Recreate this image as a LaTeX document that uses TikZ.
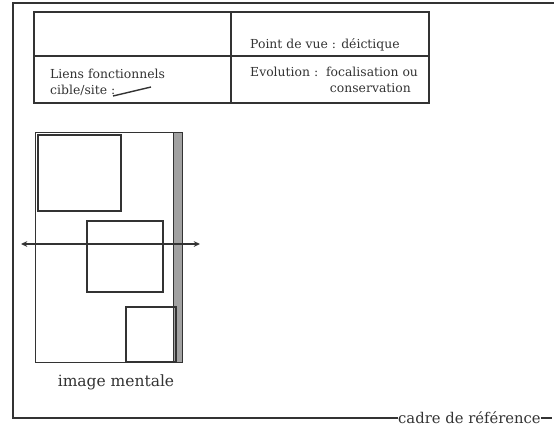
\documentclass[tikz,border=0pt]{standalone}
\usepackage{fontspec}
\setmainfont{DejaVu Serif}
\usepackage{xcolor}
\usepackage{tikz}
\usetikzlibrary{arrows.meta, positioning}
\definecolor{ink}{HTML}{333333}
\definecolor{band}{HTML}{A2A2A2}
\tikzset{
  cell/.style={rectangle, draw=ink, line width=1.5pt, inner sep=0pt, anchor=north west},
  celltext/.style={font=\fontsize{12.4}{16}\selectfont, text=ink, inner sep=0pt},
  sqbox/.style={rectangle, draw=ink, line width=1.8pt, inner sep=0pt, anchor=north west},
  frame/.style={draw=ink, line width=1.5pt},
  arrow/.style={{Stealth[length=2.2mm, width=2mm]}-{Stealth[length=2.2mm, width=2mm]}, line width=1.2pt, color=ink},
  caption/.style={font=\fontsize{15.5}{18}\selectfont, text=ink, inner sep=0pt},
}
\begin{document}
\begin{tikzpicture}[x=1pt, y=-1pt]
  \useasboundingbox (0,0) rectangle (554,432);
  % tableau
  \node[cell, minimum width=197pt, minimum height=44pt] (vide) at (33,11) {};
  \node[cell, minimum width=198pt, minimum height=44pt] (vue) at (230,11) {};
  \node[cell, minimum width=197pt, minimum height=47pt] (liens) at (33,55) {};
  \node[cell, minimum width=198pt, minimum height=47pt] (evol) at (230,55) {};
  \node[celltext, anchor=base west] (vue-t) at (250,48) {Point de vue : déictique};
  \node[celltext, anchor=base west] (liens-t) at (50,78) {Liens fonctionnels};
  \node[celltext, anchor=base west] (site-t) at (50,94) {cible/site :};
  \coordinate (lien-a) at (113,96);
  \coordinate (lien-b) at (151,87);
  \draw[ink, line width=1.4pt] (lien-a) -- (lien-b);
  \node[celltext, anchor=base west] (evol-t) at (250,76) {Evolution :\ \ focalisation ou};
  \node[celltext, anchor=base east] (cons-t) at (411,92) {conservation};
  % image mentale
  \node[rectangle, draw=ink, line width=1.2pt, fill=band, minimum width=9pt, minimum height=230pt, inner sep=0pt, anchor=north west] (bande) at (173,132) {};
  \node[sqbox, line width=1.4pt, minimum width=147pt, minimum height=230pt] (image) at (35,132) {};
  \node[sqbox, minimum width=83pt, minimum height=76pt] (carre1) at (37,134) {};
  \node[sqbox, minimum width=76pt, minimum height=71pt] (carre2) at (86,220) {};
  \node[sqbox, minimum width=50pt, minimum height=55pt] (carre3) at (125,306) {};
  \coordinate (fl-g) at (21,244);
  \coordinate (fl-d) at (200,244);
  \draw[arrow] (fl-g) -- (fl-d);
  \node[caption, anchor=base] (legende) at (116,386) {image mentale};
  % cadre
  \node[caption, font=\fontsize{14.8}{17}\selectfont, anchor=west] (cadre) at (398,418) {cadre de référence};
  \coordinate (haut-d) at (554,3);
  \coordinate (fin) at (552,418);
  \draw[frame] (haut-d) -- (13,3) -- (13,418) -- (cadre.west);
  \draw[frame] (cadre.east) -- (fin);
\end{tikzpicture}
\end{document}
